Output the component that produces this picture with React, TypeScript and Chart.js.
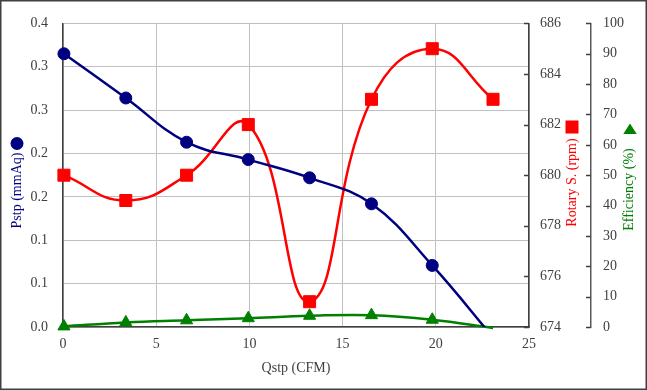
import React, { useEffect, useRef } from 'react';
import { Chart, registerables } from 'chart.js';

Chart.register(...registerables);

// ---- data ----
const qstp = [0.05, 3.37, 6.63, 9.94, 13.23, 16.55, 19.81, 23.07];
const pstp = [0.315, 0.264, 0.213, 0.193, 0.172, 0.142, 0.071, -0.012];
const rotary = [680, 679, 680, 682, 675, 683, 685, 683];
const efficiency = [0.2, 1.5, 2.2, 2.9, 3.7, 3.9, 2.4, -0.3];
const pstpTickLabels = ['0.0', '0.1', '0.1', '0.2', '0.2', '0.3', '0.3', '0.4'];

const FONT = "'Liberation Serif', 'Times New Roman', serif";
const NAVY = '#000080';
const RED = '#FF0000';
const GREEN = '#008000';
const AXIS = '#404040';
const GRID = '#c0c0c0';
const TEXT = '#404040';

const pts = (ys: number[]) => qstp.map((x, i) => ({ x, y: ys[i] }));

const decor = {
  id: 'decor',
  beforeDraw(chart: any) {
    const { ctx, width, height } = chart;
    ctx.save();
    ctx.fillStyle = '#ffffff';
    ctx.fillRect(0, 0, width, height);
    ctx.restore();
  },
  afterDraw(chart: any) {
    const { ctx, chartArea: ca, scales, width, height } = chart;
    ctx.save();
    ctx.strokeStyle = AXIS;
    ctx.lineWidth = 1.5;
    const yR = scales.yR;
    const yE = scales.yE;
    yR.ticks.forEach((t: any) => {
      const y = Math.round(yR.getPixelForValue(t.value)) + 0.5;
      ctx.beginPath();
      ctx.moveTo(ca.right - 5, y);
      ctx.lineTo(ca.right, y);
      ctx.stroke();
    });
    yE.ticks.forEach((t: any) => {
      const y = Math.round(yE.getPixelForValue(t.value)) + 0.5;
      ctx.beginPath();
      ctx.moveTo(yE.left - 5, y);
      ctx.lineTo(yE.left, y);
      ctx.stroke();
    });

    ctx.font = `14px ${FONT}`;
    ctx.textAlign = 'center';
    ctx.textBaseline = 'middle';
    ctx.fillStyle = TEXT;
    ctx.fillText('Qstp (CFM)', (ca.left + ca.right) / 2, 368);

    const vtext = (txt: string, x: number, y: number, color: string) => {
      ctx.save();
      ctx.translate(x, y);
      ctx.rotate(-Math.PI / 2);
      ctx.fillStyle = color;
      ctx.fillText(txt, 0, 0);
      ctx.restore();
    };
    vtext('Pstp (mmAq)', 17.5, 190.5, NAVY);
    ctx.fillStyle = NAVY;
    ctx.beginPath();
    ctx.arc(17, 143.5, 6.5, 0, Math.PI * 2);
    ctx.fill();

    vtext('Rotary S. (rpm)', 572, 182.5, RED);
    ctx.fillStyle = RED;
    ctx.fillRect(565.5, 120.5, 13, 13);

    vtext('Efficiency (%)', 629.5, 189.5, GREEN);
    ctx.fillStyle = GREEN;
    ctx.beginPath();
    ctx.moveTo(630, 123.5);
    ctx.lineTo(636.7, 134);
    ctx.lineTo(623.3, 134);
    ctx.closePath();
    ctx.fill();

    ctx.strokeStyle = '#404040';
    ctx.lineWidth = 1.5;
    ctx.strokeRect(0.75, 0.75, width - 1.5, height - 1.5);
    ctx.restore();
  },
};

export default function App() {
  const ref = useRef<HTMLCanvasElement | null>(null);

  useEffect(() => {
    document.body.style.margin = '0';
    const canvas = ref.current;
    if (!canvas) return;
    const tickFont = { family: FONT, size: 14 };
    const chart = new Chart(canvas, {
      type: 'line',
      data: {
        datasets: [
          {
            label: 'Pstp',
            data: pts(pstp),
            yAxisID: 'yP',
            borderColor: NAVY,
            backgroundColor: NAVY,
            borderWidth: 2.5,
            pointStyle: 'circle',
            pointRadius: 6,
            pointBorderWidth: 1,
            tension: 0.4,
            clip: { left: 12, top: 0, right: 0, bottom: 0 },
          } as any,
          {
            label: 'Rotary S.',
            data: pts(rotary),
            yAxisID: 'yR',
            borderColor: RED,
            backgroundColor: RED,
            borderWidth: 2.5,
            pointStyle: 'rect',
            pointRadius: 8.5,
            pointBorderWidth: 1,
            tension: 0.45,
            clip: false,
          } as any,
          {
            label: 'Efficiency',
            data: pts(efficiency),
            yAxisID: 'yE',
            borderColor: GREEN,
            backgroundColor: GREEN,
            borderWidth: 2.5,
            pointStyle: 'triangle',
            pointRadius: efficiency.map((v) => (v < 0 ? 0 : 7)),
            pointBorderWidth: 1,
            tension: 0.4,
            clip: { left: 12, top: 0, right: 0, bottom: 4 },
          } as any,
        ],
      },
      options: {
        responsive: false,
        animation: false,
        devicePixelRatio: 1,
        layout: { padding: { top: 19, left: 0, right: 0, bottom: 0 } },
        plugins: { legend: { display: false }, tooltip: { enabled: false } },
        scales: {
          x: {
            type: 'linear',
            min: 0,
            max: 25,
            ticks: { stepSize: 5, font: tickFont, color: TEXT, padding: 9, maxRotation: 0 },
            grid: { color: GRID, lineWidth: 1, drawTicks: false },
            border: { color: AXIS, width: 1.5 },
            afterFit: (s: any) => {
              s.height = 63;
            },
          },
          yP: {
            type: 'linear',
            position: 'left',
            min: 0,
            max: 0.35,
            ticks: {
              stepSize: 0.05,
              font: tickFont,
              color: TEXT,
              padding: 15,
              callback: (_v: any, i: number) => pstpTickLabels[i],
            },
            grid: { color: GRID, lineWidth: 1, drawTicks: false },
            border: { color: AXIS, width: 1.5 },
            afterFit: (s: any) => {
              s.width = 63;
            },
          },
          yR: {
            type: 'linear',
            position: 'right',
            weight: 0,
            min: 674,
            max: 686,
            ticks: { stepSize: 2, font: tickFont, color: TEXT, padding: 11 },
            grid: { display: false, drawOnChartArea: false, drawTicks: false },
            border: { color: AXIS, width: 1.5 },
            afterFit: (s: any) => {
              s.width = 62;
            },
          },
          yE: {
            type: 'linear',
            position: 'right',
            weight: 1,
            min: 0,
            max: 100,
            ticks: { stepSize: 10, font: tickFont, color: TEXT, padding: 12 },
            grid: { display: false, drawOnChartArea: false, drawTicks: false },
            border: { color: '#595959', width: 1.5 },
            afterFit: (s: any) => {
              s.width = 56;
            },
          },
        } as any,
      },
      plugins: [decor],
    });
    return () => chart.destroy();
  }, []);

  return (
    <div style={{ position: 'absolute', left: 0, top: 0, width: 647, height: 390 }}>
      <canvas ref={ref} width={647} height={390} style={{ display: 'block' }} />
    </div>
  );
}
